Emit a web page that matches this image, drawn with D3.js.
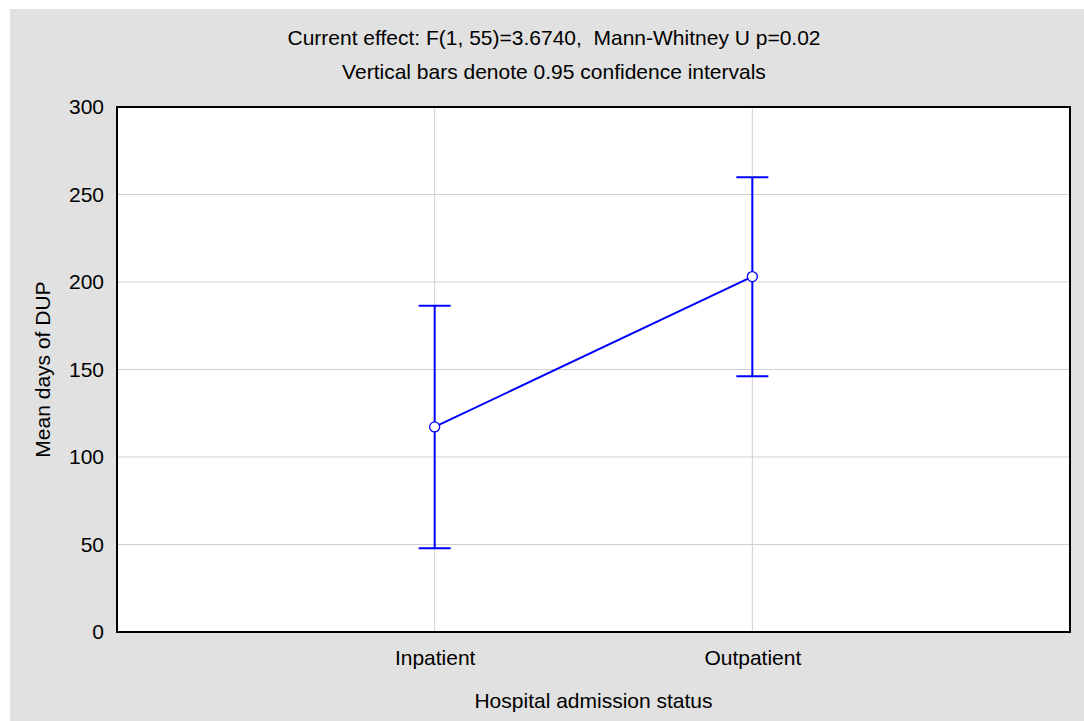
<!DOCTYPE html>
<html>
<head>
<meta charset="utf-8">
<script src="https://cdn.jsdelivr.net/npm/d3@7"></script>
<style>
  html, body { margin: 0; padding: 0; background: #ffffff; }
  svg { display: block; }
  text { font-family: "Liberation Sans", Arial, sans-serif; fill: #000; }
</style>
</head>
<body>
<svg id="chart" width="1084" height="721"></svg>
<script>
// Group means of DUP with 95% confidence limits
const categories = ["Inpatient", "Outpatient"];
const means = [117.2, 203.1];
const lower = [47.9, 146.1];
const upper = [186.5, 259.9];
const yTicks = [0, 50, 100, 150, 200, 250, 300];

const titleLines = [
  "Current effect: F(1, 55)=3.6740,  Mann-Whitney U p=0.02",
  "Vertical bars denote 0.95 confidence intervals"
];
const xTitle = "Hospital admission status";
const yTitle = "Mean days of DUP";

const W = 1084, H = 721;
const plot = { left: 117, top: 107, right: 1070, bottom: 632 };
const fontSize = 21;

const svg = d3.select("#chart");

// panel background
svg.append("rect")
  .attr("x", 10).attr("y", 9)
  .attr("width", W - 10).attr("height", H - 9)
  .attr("fill", "#e1e1e1");

svg.append("rect")
  .attr("x", plot.left).attr("y", plot.top)
  .attr("width", plot.right - plot.left).attr("height", plot.bottom - plot.top)
  .attr("fill", "#ffffff");

const x = d3.scalePoint()
  .domain(["", ...categories, " "])
  .range([plot.left, plot.right]);

const y = d3.scaleLinear()
  .domain([0, 300])
  .range([plot.bottom, plot.top]);

// grid
svg.append("g")
  .selectAll("line")
  .data(yTicks.filter(d => d > 0 && d < 300))
  .join("line")
  .attr("x1", plot.left).attr("x2", plot.right)
  .attr("y1", d => y(d)).attr("y2", d => y(d))
  .attr("stroke", "#cfcfcf").attr("stroke-width", 1);

svg.append("g")
  .selectAll("line")
  .data(categories)
  .join("line")
  .attr("x1", d => x(d)).attr("x2", d => x(d))
  .attr("y1", plot.top).attr("y2", plot.bottom)
  .attr("stroke", "#cfcfcf").attr("stroke-width", 1);

// axes (labels only, no tick marks)
const yAxis = svg.append("g")
  .attr("transform", `translate(${plot.left},0)`)
  .call(d3.axisLeft(y).tickValues(yTicks).tickSize(0).tickPadding(13));
yAxis.select(".domain").remove();
yAxis.selectAll("text")
  .attr("font-size", fontSize)
  .attr("font-family", "Liberation Sans, Arial, sans-serif")
  .attr("fill", "#000");

const xAxis = svg.append("g")
  .attr("transform", `translate(0,${plot.bottom})`)
  .call(d3.axisBottom(x).tickValues(categories).tickSize(0).tickPadding(18));
xAxis.select(".domain").remove();
xAxis.selectAll("text")
  .attr("font-size", fontSize)
  .attr("font-family", "Liberation Sans, Arial, sans-serif")
  .attr("fill", "#000");

// frame
svg.append("rect")
  .attr("x", plot.left).attr("y", plot.top)
  .attr("width", plot.right - plot.left).attr("height", plot.bottom - plot.top)
  .attr("fill", "none")
  .attr("stroke", "#000").attr("stroke-width", 2);

const blue = "#0000ff";
const capHalf = 16;

// error bars
const eb = svg.append("g").attr("stroke", blue).attr("stroke-width", 2).attr("fill", "none");
categories.forEach((c, i) => {
  eb.append("line")
    .attr("x1", x(c)).attr("x2", x(c))
    .attr("y1", y(lower[i])).attr("y2", y(upper[i]));
  eb.append("line")
    .attr("x1", x(c) - capHalf).attr("x2", x(c) + capHalf)
    .attr("y1", y(upper[i])).attr("y2", y(upper[i]));
  eb.append("line")
    .attr("x1", x(c) - capHalf).attr("x2", x(c) + capHalf)
    .attr("y1", y(lower[i])).attr("y2", y(lower[i]));
});

// mean line
svg.append("path")
  .datum(categories.map((c, i) => [x(c), y(means[i])]))
  .attr("d", d3.line())
  .attr("fill", "none")
  .attr("stroke", blue)
  .attr("stroke-width", 2);

svg.append("g")
  .selectAll("circle")
  .data(categories)
  .join("circle")
  .attr("cx", d => x(d))
  .attr("cy", (d, i) => y(means[i]))
  .attr("r", 5)
  .attr("fill", "#fff")
  .attr("stroke", blue)
  .attr("stroke-width", 1.3);

// titles
svg.append("g")
  .selectAll("text")
  .data(titleLines)
  .join("text")
  .attr("x", 554)
  .attr("y", (d, i) => 45 + i * 34)
  .attr("text-anchor", "middle")
  .attr("font-size", fontSize)
  .style("white-space", "pre")
  .text(d => d);

svg.append("text")
  .attr("x", (plot.left + plot.right) / 2)
  .attr("y", 708)
  .attr("text-anchor", "middle")
  .attr("font-size", fontSize)
  .text(xTitle);

svg.append("text")
  .attr("transform", `translate(50,${(plot.top + plot.bottom) / 2}) rotate(-90)`)
  .attr("text-anchor", "middle")
  .attr("font-size", fontSize)
  .text(yTitle);
</script>
</body>
</html>
